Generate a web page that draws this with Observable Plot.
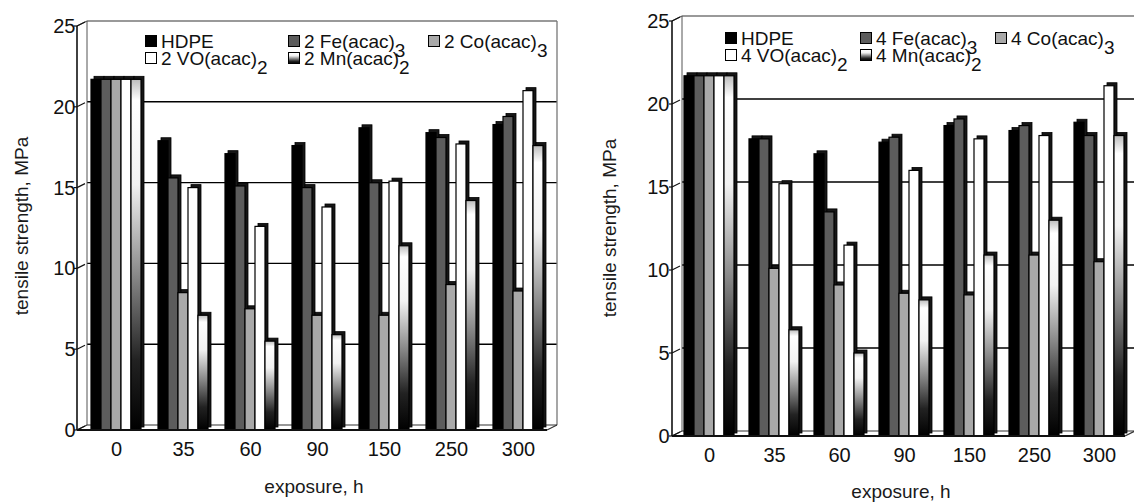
<!DOCTYPE html>
<html><head><meta charset="utf-8">
<script src="https://cdn.jsdelivr.net/npm/d3@7"></script>
<script src="https://cdn.jsdelivr.net/npm/@observablehq/plot@0.6"></script>
<style>
html,body{margin:0;padding:0;background:#fff;}
#wrap{position:relative;width:1134px;height:502px;overflow:hidden;background:#fff;}
#left{position:absolute;left:0;top:0;}
#right{position:absolute;left:570px;top:0;}
</style></head><body>
<div id="wrap"><div id="left"></div><div id="right"></div></div>
<script>
// ---------- data ----------
const exposure = ["0", "35", "60", "90", "150", "250", "300"];
const seriesKeys = ["HDPE", "Fe", "Co", "VO", "Mn"];
const yTicks = [0, 5, 10, 15, 20, 25];

// panel 1: 2 wt.% additives
const labels2 = ["HDPE", "2 Fe(acac)", "2 Co(acac)", "2 VO(acac)", "2 Mn(acac)"];
const hdpe2 = [21.7, 17.9, 17.1, 17.6, 18.7, 18.4, 18.9];
const fe2   = [21.7, 15.6, 15.1, 15.0, 15.3, 18.1, 19.4];
const co2   = [21.7, 8.5, 7.5, 7.1, 7.1, 9.0, 8.6];
const vo2   = [21.7, 15.0, 12.6, 13.8, 15.4, 17.7, 21.0];
const mn2   = [21.7, 7.1, 5.5, 5.9, 11.4, 14.2, 17.6];

// panel 2: 4 wt.% additives
const labels4 = ["HDPE", "4 Fe(acac)", "4 Co(acac)", "4 VO(acac)", "4 Mn(acac)"];
const hdpe4 = [21.7, 17.9, 17.0, 17.7, 18.7, 18.4, 18.9];
const fe4   = [21.7, 17.9, 13.5, 18.0, 19.1, 18.7, 18.1];
const co4   = [21.7, 10.1, 9.1, 8.6, 8.5, 10.9, 10.5];
const vo4   = [21.7, 15.2, 11.5, 16.0, 17.9, 18.1, 21.1];
const mn4   = [21.7, 6.4, 5.0, 8.2, 10.9, 13.0, 18.1];

const subs = ["", "3", "3", "2", "2"];
const yTitle = "tensile strength, MPa";
const xTitle = "exposure, h";

// ---------- drawing ----------
const FONT = "'Liberation Sans', Arial, Helvetica, sans-serif";

function panel(el, cfg) {
  const vals = cfg.values;
  const rows = [];
  exposure.forEach((e, i) => seriesKeys.forEach((s, j) => rows.push({exposure: e, series: s, value: vals[j][i]})));
  const gid = cfg.gid;
  const fills = ["#000000", "#5c5c5c", "#a9a9a9", "#ffffff", `url(#${gid})`];

  const plot = Plot.plot({
    width: cfg.width, height: 502,
    marginLeft: cfg.ml, marginRight: cfg.mr, marginTop: cfg.mt, marginBottom: cfg.mb,
    style: {fontFamily: FONT, fontSize: "20px", color: "#111", background: "none", overflow: "visible"},
    facet: {data: rows, x: "exposure"},
    fx: {domain: exposure, paddingInner: cfg.pi, paddingOuter: 0, tickSize: 0, tickPadding: 11, label: null},
    x: {domain: seriesKeys, axis: null, padding: 0},
    y: {domain: [0, 25], ticks: yTicks, tickSize: 0, tickPadding: cfg.tp, label: null},
    color: {domain: seriesKeys, range: fills},
    marks: [
      Plot.barY(rows, {x: "series", y: "value", fill: "#161616", stroke: "#000", strokeWidth: 0.8, dx: 3, dy: -3, inset: 0}),
      Plot.barY(rows, {x: "series", y: "value", fill: "series", stroke: "#000", strokeWidth: 1.2, inset: 0})
    ]
  });

  const svg = d3.select(plot);
  svg.selectAll("text").attr("font-size", 20).attr("fill", "#111");
  const y = plot.scale("y");
  const Y = v => y.apply(v);
  const X0 = cfg.ml, X1 = cfg.width - cfg.mr;
  const ax = X0 - 10, ox = 10, oy = -5;

  // gradient
  const defs = svg.insert("defs", ":first-child");
  const g = defs.append("linearGradient").attr("id", gid).attr("x1", 0).attr("y1", 0).attr("x2", 0).attr("y2", 1);
  [[0, "#bdbdbd"], [0.06, "#ffffff"], [0.3, "#f2f2f2"], [0.55, "#8c8c8c"], [0.8, "#222"], [1, "#000"]]
    .forEach(([o, c]) => g.append("stop").attr("offset", o).attr("stop-color", c));

  // back decorations (behind bars)
  const back = svg.insert("g", "defs + *").attr("fill", "none");
  [5, 10, 15, 20].forEach(v => back.append("line")
    .attr("x1", X0).attr("x2", X1 + ox).attr("y1", Y(v) + oy).attr("y2", Y(v) + oy)
    .attr("stroke", "#000").attr("stroke-width", 1.4));
  back.append("line").attr("x1", X0).attr("x2", X1 + ox).attr("y1", Y(25) + oy).attr("y2", Y(25) + oy).attr("stroke", "#777").attr("stroke-width", 1.3);
  back.append("line").attr("x1", X1 + ox).attr("x2", X1 + ox).attr("y1", Y(25) + oy).attr("y2", Y(0) + oy).attr("stroke", "#777").attr("stroke-width", 1.3);
  back.append("line").attr("x1", X0).attr("x2", X0).attr("y1", Y(25) + oy).attr("y2", Y(0) + oy).attr("stroke", "#555").attr("stroke-width", 1);
  back.append("line").attr("x1", X0).attr("x2", X1 + ox).attr("y1", Y(0) + oy).attr("y2", Y(0) + oy).attr("stroke", "#333").attr("stroke-width", 1.2);
  back.append("line").attr("x1", ax).attr("x2", X0).attr("y1", Y(25)).attr("y2", Y(25) + oy).attr("stroke", "#555").attr("stroke-width", 1.2);
  back.append("line").attr("x1", ax).attr("x2", X0).attr("y1", Y(0)).attr("y2", Y(0) + oy).attr("stroke", "#333").attr("stroke-width", 1.2);
  back.append("line").attr("x1", X1).attr("x2", X1 + ox).attr("y1", Y(0)).attr("y2", Y(0) + oy).attr("stroke", "#333").attr("stroke-width", 1.2);

  // front decorations
  const front = svg.append("g").attr("fill", "none");
  front.append("line").attr("x1", ax).attr("x2", ax).attr("y1", Y(25)).attr("y2", Y(0)).attr("stroke", "#111").attr("stroke-width", 1.6);
  front.append("line").attr("x1", ax).attr("x2", X1).attr("y1", Y(0)).attr("y2", Y(0)).attr("stroke", "#111").attr("stroke-width", 2);
  yTicks.forEach(v => {
    front.append("line").attr("x1", ax - 3).attr("x2", ax).attr("y1", Y(v)).attr("y2", Y(v)).attr("stroke", "#111").attr("stroke-width", 1.2);
    front.append("line").attr("x1", ax).attr("x2", ax + 8).attr("y1", Y(v)).attr("y2", Y(v) - 4).attr("stroke", "#111").attr("stroke-width", 1.2);
  });

  // axis titles
  const t = svg.append("g").attr("font-family", FONT).attr("fill", "#1a1a1a").attr("font-size", 19).attr("text-anchor", "middle");
  t.append("text").attr("transform", `translate(${cfg.ytx},${cfg.yty}) rotate(-90)`).text(yTitle);
  t.append("text").attr("x", cfg.xtx).attr("y", cfg.xty).text(xTitle);

  // legend
  const lg = svg.append("g").attr("font-family", FONT).attr("font-size", 19).attr("fill", "#111").attr("text-anchor", "start");
  cfg.legend.forEach((it, j) => {
    const base = cfg.rows[it.row];
    lg.append("rect").attr("x", it.x + 0.5).attr("y", base - 12.5).attr("width", 11).attr("height", 11)
      .attr("fill", fills[j]).attr("stroke", "#000").attr("stroke-width", 1);
    const tx = lg.append("text").attr("x", it.x + 16).attr("y", base);
    tx.append("tspan").text(cfg.labels[j]);
    if (subs[j]) tx.append("tspan").attr("dy", 9).text(subs[j]);
  });

  el.appendChild(plot);
}

panel(document.getElementById("left"), {
  values: [hdpe2, fe2, co2, vo2, mn2], labels: labels2, gid: "mnGradL",
  width: 570, ml: 87, mr: 23, mt: 26, mb: 72, pi: 0.22, tp: 15,
  ytx: 28, yty: 226, xtx: 314, xty: 493,
  rows: [48, 65],
  legend: [{x: 145, row: 0}, {x: 288, row: 0}, {x: 428, row: 0}, {x: 145, row: 1}, {x: 288, row: 1}]
});
panel(document.getElementById("right"), {
  values: [hdpe4, fe4, co4, vo4, mn4], labels: labels4, gid: "mnGradR",
  width: 564, ml: 112, mr: 9, mt: 21, mb: 66, pi: 0.2, tp: 14,
  ytx: 46, yty: 228, xtx: 331, xty: 498,
  rows: [45, 62],
  legend: [{x: 155, row: 0}, {x: 290, row: 0}, {x: 425, row: 0}, {x: 155, row: 1}, {x: 290, row: 1}]
});
</script>
</body></html>
